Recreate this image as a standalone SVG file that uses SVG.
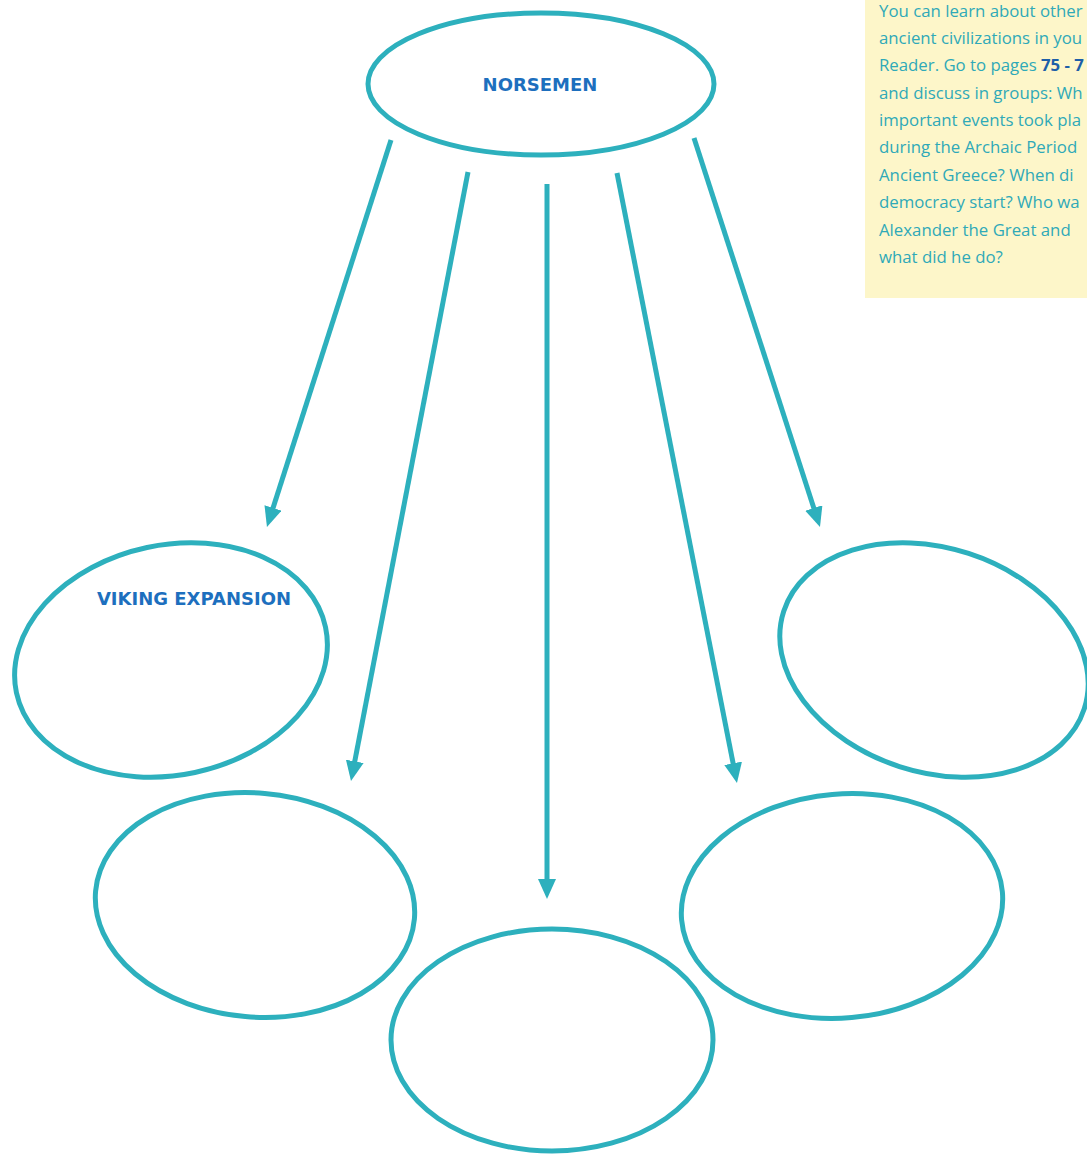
<svg xmlns="http://www.w3.org/2000/svg" width="1087" height="1154" viewBox="0 0 1087 1154">
<style>
.node{fill:none;stroke:#2db0bd;stroke-width:5}
.conn line{stroke:#2db0bd;stroke-width:5}
.label{font-family:"DejaVu Sans",sans-serif;font-weight:bold;fill:#1d6fbe;font-size:18px}
.note{font-family:"Open Sans","Liberation Sans",sans-serif;fill:#2fa9b8;font-size:16.8px}
</style>
<defs>
<marker id="ah" markerWidth="4" markerHeight="3.6" refX="0.5" refY="1.8" orient="auto" markerUnits="strokeWidth" viewBox="0 0 4 3.6">
<path d="M0,0 L4,1.8 L0,3.6 Z" fill="#2db0bd"/>
</marker>
</defs>
<rect width="1087" height="1154" fill="#ffffff"/>
<g id="note">
<rect x="865" y="0" width="222" height="298" fill="#fdf6c9"/>
<text class="note" x="879" y="17">You can learn about other</text>
<text class="note" x="879" y="44">ancient civilizations in you</text>
<text class="note" x="879" y="71">Reader. Go to pages <tspan font-weight="bold" fill="#1d5fa8">75 - 7</tspan></text>
<text class="note" x="879" y="99">and discuss in groups: Wh</text>
<text class="note" x="879" y="126">important events took pla</text>
<text class="note" x="879" y="153">during the Archaic Period</text>
<text class="note" x="879" y="181">Ancient Greece? When di</text>
<text class="note" x="879" y="208">democracy start? Who wa</text>
<text class="note" x="879" y="236">Alexander the Great and</text>
<text class="note" x="879" y="263">what did he do?</text>
</g>
<g id="connectors" class="conn">
<line x1="391" y1="140" x2="272.3" y2="510.3" marker-end="url(#ah)"/>
<line x1="468" y1="172" x2="354.3" y2="763.8" marker-end="url(#ah)"/>
<line x1="547" y1="184" x2="547" y2="881.5" marker-end="url(#ah)"/>
<line x1="617" y1="173" x2="733.6" y2="765.8" marker-end="url(#ah)"/>
<line x1="694" y1="138" x2="814.6" y2="510.4" marker-end="url(#ah)"/>
</g>
<g id="norsemen">
<ellipse class="node" cx="541" cy="84" rx="173" ry="71"/>
<text class="label" x="540" y="91" text-anchor="middle">NORSEMEN</text>
</g>
<g id="viking">
<ellipse class="node" cx="171" cy="660" rx="158" ry="115" transform="rotate(-12 171 660)"/>
<text class="label" x="194" y="605" text-anchor="middle">VIKING EXPANSION</text>
</g>
<g id="node-bl">
<ellipse class="node" cx="255" cy="905" rx="160" ry="112" transform="rotate(5 255 905)"/>
</g>
<g id="node-bc">
<ellipse class="node" cx="552" cy="1040" rx="161" ry="111"/>
</g>
<g id="node-br">
<ellipse class="node" cx="842" cy="906" rx="161" ry="112" transform="rotate(-5 842 906)"/>
</g>
<g id="node-r">
<ellipse class="node" cx="934" cy="660" rx="158" ry="112" transform="rotate(18 934 660)"/>
</g>
</svg>
